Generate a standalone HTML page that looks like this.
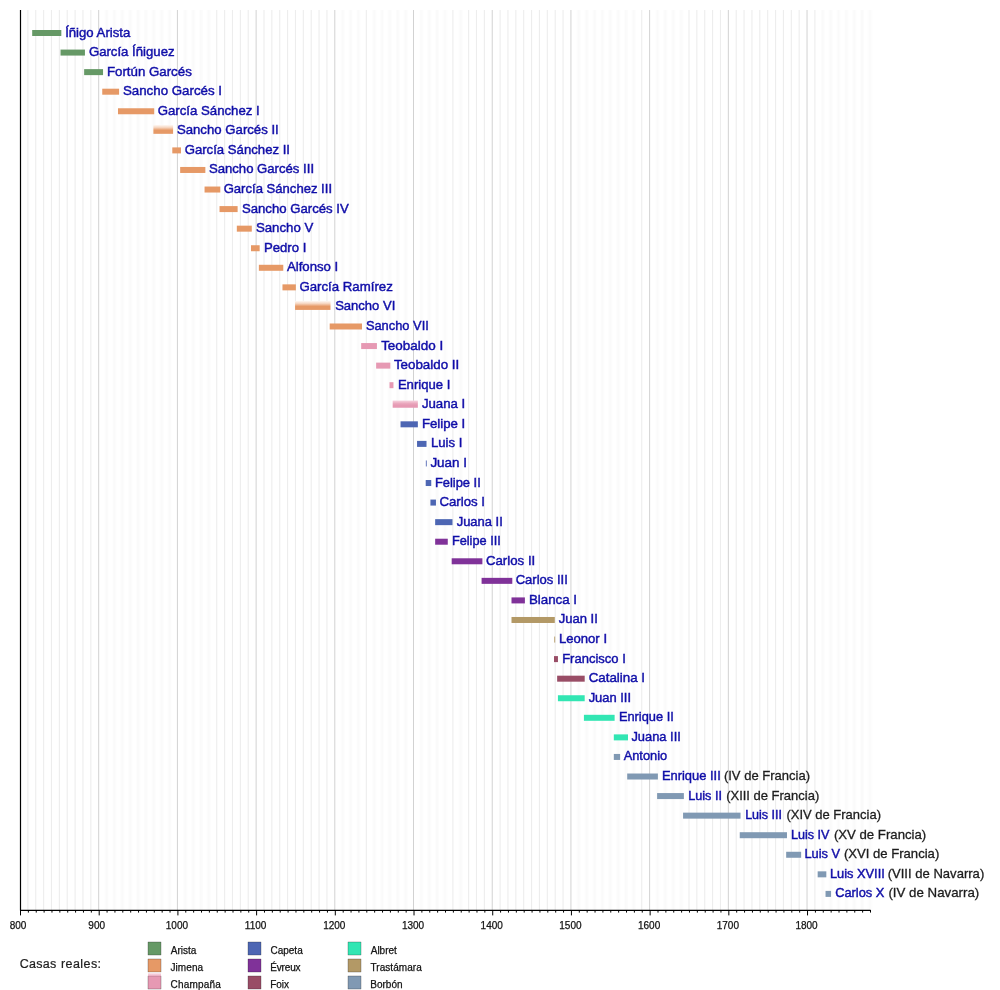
<!DOCTYPE html>
<html lang="es"><head><meta charset="utf-8"><title>Reyes de Navarra</title>
<style>
html,body{margin:0;padding:0;background:#fff;}
body{width:1000px;height:990px;overflow:hidden;font-family:"Liberation Sans",sans-serif;}
svg{display:block;}
text{font-family:"Liberation Sans",sans-serif;}
.lk{fill:#100ca8;stroke:#100ca8;stroke-width:0.45px;font-size:13.6px;}
.pt{fill:#1c1c1c;stroke:#1c1c1c;stroke-width:0.3px;font-size:13.6px;}
.ax{fill:#141414;stroke:#141414;stroke-width:0.25px;font-size:10px;text-anchor:middle;}
.lg{fill:#141414;stroke:#141414;stroke-width:0.25px;font-size:10px;}
.mn{stroke:#f3f3f3;stroke-width:1.2;}
.ms{stroke:#ededed;stroke-width:1.1;}
.mj{stroke:#d2d2d2;stroke-width:1;}
.tk{stroke:#000;stroke-width:1;}
</style></head><body>
<svg width="1000" height="990" viewBox="0 0 1000 990">
<rect x="0" y="0" width="1000" height="990" fill="#ffffff"/>
<defs>
<linearGradient id="gj" x1="0" y1="0" x2="0" y2="1"><stop offset="0" stop-color="#fefaf7"/><stop offset="0.3" stop-color="#f6d5bf"/><stop offset="0.6" stop-color="#e69966"/><stop offset="1" stop-color="#e69966"/></linearGradient>
<linearGradient id="gc" x1="0" y1="0" x2="0" y2="1"><stop offset="0" stop-color="#f6d3df"/><stop offset="0.45" stop-color="#e9a3ba"/><stop offset="0.7" stop-color="#e699b3"/><stop offset="1" stop-color="#e699b3"/></linearGradient>
<filter id="tb" x="0" y="0" width="1000" height="990" filterUnits="userSpaceOnUse"><feGaussianBlur stdDeviation="0.5"/></filter>
<linearGradient id="gl" x1="0" y1="0" x2="0" y2="1"><stop offset="0" stop-color="#fdf3f6"/><stop offset="1" stop-color="#e9a4bc"/></linearGradient>
<filter id="gb2" x="0" y="0" width="1000" height="990" filterUnits="userSpaceOnUse"><feGaussianBlur stdDeviation="0.45 0"/></filter>
<filter id="gb" x="0" y="0" width="1000" height="990" filterUnits="userSpaceOnUse"><feGaussianBlur stdDeviation="0.8 0"/></filter>
</defs>
<g class="mn" filter="url(#gb)">
<line x1="106.57" y1="10" x2="106.57" y2="910"/>
<line x1="114.44" y1="10" x2="114.44" y2="910"/>
<line x1="122.31" y1="10" x2="122.31" y2="910"/>
<line x1="130.19" y1="10" x2="130.19" y2="910"/>
<line x1="138.06" y1="10" x2="138.06" y2="910"/>
<line x1="145.93" y1="10" x2="145.93" y2="910"/>
<line x1="153.8" y1="10" x2="153.8" y2="910"/>
<line x1="161.67" y1="10" x2="161.67" y2="910"/>
<line x1="169.54" y1="10" x2="169.54" y2="910"/>
<line x1="185.28" y1="10" x2="185.28" y2="910"/>
<line x1="193.15" y1="10" x2="193.15" y2="910"/>
<line x1="201.02" y1="10" x2="201.02" y2="910"/>
<line x1="208.89" y1="10" x2="208.89" y2="910"/>
<line x1="342.69" y1="10" x2="342.69" y2="910"/>
<line x1="350.56" y1="10" x2="350.56" y2="910"/>
<line x1="358.43" y1="10" x2="358.43" y2="910"/>
<line x1="374.17" y1="10" x2="374.17" y2="910"/>
<line x1="382.04" y1="10" x2="382.04" y2="910"/>
<line x1="389.91" y1="10" x2="389.91" y2="910"/>
<line x1="397.78" y1="10" x2="397.78" y2="910"/>
<line x1="405.65" y1="10" x2="405.65" y2="910"/>
<line x1="421.39" y1="10" x2="421.39" y2="910"/>
<line x1="429.26" y1="10" x2="429.26" y2="910"/>
<line x1="437.13" y1="10" x2="437.13" y2="910"/>
<line x1="445" y1="10" x2="445" y2="910"/>
<line x1="460.74" y1="10" x2="460.74" y2="910"/>
<line x1="578.8" y1="10" x2="578.8" y2="910"/>
<line x1="586.67" y1="10" x2="586.67" y2="910"/>
<line x1="594.54" y1="10" x2="594.54" y2="910"/>
<line x1="602.41" y1="10" x2="602.41" y2="910"/>
<line x1="610.28" y1="10" x2="610.28" y2="910"/>
<line x1="618.15" y1="10" x2="618.15" y2="910"/>
<line x1="626.02" y1="10" x2="626.02" y2="910"/>
<line x1="633.89" y1="10" x2="633.89" y2="910"/>
<line x1="657.5" y1="10" x2="657.5" y2="910"/>
<line x1="665.37" y1="10" x2="665.37" y2="910"/>
<line x1="673.24" y1="10" x2="673.24" y2="910"/>
<line x1="681.11" y1="10" x2="681.11" y2="910"/>
<line x1="822.78" y1="10" x2="822.78" y2="910"/>
<line x1="830.65" y1="10" x2="830.65" y2="910"/>
<line x1="838.52" y1="10" x2="838.52" y2="910"/>
<line x1="846.39" y1="10" x2="846.39" y2="910"/>
<line x1="854.26" y1="10" x2="854.26" y2="910"/>
<line x1="862.13" y1="10" x2="862.13" y2="910"/>
<line x1="870" y1="10" x2="870" y2="910"/>
</g>
<g class="ms" filter="url(#gb2)">
<line x1="27.87" y1="10" x2="27.87" y2="910"/>
<line x1="35.74" y1="10" x2="35.74" y2="910"/>
<line x1="43.61" y1="10" x2="43.61" y2="910"/>
<line x1="51.48" y1="10" x2="51.48" y2="910"/>
<line x1="59.35" y1="10" x2="59.35" y2="910"/>
<line x1="67.22" y1="10" x2="67.22" y2="910"/>
<line x1="75.09" y1="10" x2="75.09" y2="910"/>
<line x1="82.96" y1="10" x2="82.96" y2="910"/>
<line x1="90.83" y1="10" x2="90.83" y2="910"/>
<line x1="216.76" y1="10" x2="216.76" y2="910"/>
<line x1="224.63" y1="10" x2="224.63" y2="910"/>
<line x1="232.5" y1="10" x2="232.5" y2="910"/>
<line x1="240.37" y1="10" x2="240.37" y2="910"/>
<line x1="248.24" y1="10" x2="248.24" y2="910"/>
<line x1="263.98" y1="10" x2="263.98" y2="910"/>
<line x1="271.85" y1="10" x2="271.85" y2="910"/>
<line x1="279.72" y1="10" x2="279.72" y2="910"/>
<line x1="287.59" y1="10" x2="287.59" y2="910"/>
<line x1="295.46" y1="10" x2="295.46" y2="910"/>
<line x1="303.33" y1="10" x2="303.33" y2="910"/>
<line x1="311.2" y1="10" x2="311.2" y2="910"/>
<line x1="319.07" y1="10" x2="319.07" y2="910"/>
<line x1="326.94" y1="10" x2="326.94" y2="910"/>
<line x1="366.3" y1="10" x2="366.3" y2="910"/>
<line x1="452.87" y1="10" x2="452.87" y2="910"/>
<line x1="468.61" y1="10" x2="468.61" y2="910"/>
<line x1="476.48" y1="10" x2="476.48" y2="910"/>
<line x1="484.35" y1="10" x2="484.35" y2="910"/>
<line x1="500.09" y1="10" x2="500.09" y2="910"/>
<line x1="507.96" y1="10" x2="507.96" y2="910"/>
<line x1="515.83" y1="10" x2="515.83" y2="910"/>
<line x1="523.7" y1="10" x2="523.7" y2="910"/>
<line x1="531.57" y1="10" x2="531.57" y2="910"/>
<line x1="539.44" y1="10" x2="539.44" y2="910"/>
<line x1="547.31" y1="10" x2="547.31" y2="910"/>
<line x1="555.19" y1="10" x2="555.19" y2="910"/>
<line x1="563.06" y1="10" x2="563.06" y2="910"/>
<line x1="641.76" y1="10" x2="641.76" y2="910"/>
<line x1="688.98" y1="10" x2="688.98" y2="910"/>
<line x1="696.85" y1="10" x2="696.85" y2="910"/>
<line x1="704.72" y1="10" x2="704.72" y2="910"/>
<line x1="712.59" y1="10" x2="712.59" y2="910"/>
<line x1="720.46" y1="10" x2="720.46" y2="910"/>
<line x1="736.2" y1="10" x2="736.2" y2="910"/>
<line x1="744.07" y1="10" x2="744.07" y2="910"/>
<line x1="751.94" y1="10" x2="751.94" y2="910"/>
<line x1="759.81" y1="10" x2="759.81" y2="910"/>
<line x1="767.69" y1="10" x2="767.69" y2="910"/>
<line x1="775.56" y1="10" x2="775.56" y2="910"/>
<line x1="783.43" y1="10" x2="783.43" y2="910"/>
<line x1="791.3" y1="10" x2="791.3" y2="910"/>
<line x1="799.17" y1="10" x2="799.17" y2="910"/>
<line x1="814.91" y1="10" x2="814.91" y2="910"/>
</g>
<g class="mj">
<line x1="98.7" y1="10" x2="98.7" y2="910"/>
<line x1="177.41" y1="10" x2="177.41" y2="910"/>
<line x1="256.11" y1="10" x2="256.11" y2="910"/>
<line x1="334.81" y1="10" x2="334.81" y2="910"/>
<line x1="413.52" y1="10" x2="413.52" y2="910"/>
<line x1="492.22" y1="10" x2="492.22" y2="910"/>
<line x1="570.93" y1="10" x2="570.93" y2="910"/>
<line x1="649.63" y1="10" x2="649.63" y2="910"/>
<line x1="728.33" y1="10" x2="728.33" y2="910"/>
<line x1="807.04" y1="10" x2="807.04" y2="910"/>
</g>
<g filter="url(#tb)">
<rect x="32.19" y="30" width="29.13" height="6" fill="#669966"/>
<rect x="60.53" y="49.57" width="24.41" height="6" fill="#669966"/>
<rect x="84.14" y="69.13" width="18.9" height="6" fill="#669966"/>
<rect x="102.24" y="88.7" width="16.86" height="6" fill="#e69966"/>
<rect x="117.98" y="108.26" width="36.22" height="6" fill="#e69966"/>
<rect x="153.4" y="124.83" width="19.69" height="9" fill="url(#gj)"/>
<rect x="172.29" y="147.4" width="8.67" height="6" fill="#e69966"/>
<rect x="180.16" y="166.96" width="25.2" height="6" fill="#e69966"/>
<rect x="204.55" y="186.53" width="15.75" height="6" fill="#e69966"/>
<rect x="219.51" y="206.09" width="18.11" height="6" fill="#e69966"/>
<rect x="236.82" y="225.66" width="14.97" height="6" fill="#e69966"/>
<rect x="250.99" y="245.23" width="8.67" height="6" fill="#e69966"/>
<rect x="258.86" y="264.79" width="24.41" height="6" fill="#e69966"/>
<rect x="282.47" y="284.36" width="13.39" height="6" fill="#e69966"/>
<rect x="295.06" y="300.92" width="35.43" height="9" fill="url(#gj)"/>
<rect x="329.69" y="323.49" width="32.28" height="6" fill="#e69966"/>
<rect x="361.17" y="343.06" width="15.75" height="6" fill="#e699b3"/>
<rect x="376.13" y="362.62" width="14.18" height="6" fill="#e699b3"/>
<rect x="389.51" y="382.19" width="3.95" height="6" fill="#e699b3"/>
<rect x="392.66" y="400.55" width="25.2" height="7.2" fill="url(#gc)"/>
<rect x="400.53" y="421.32" width="17.33" height="6" fill="#4d66b3"/>
<rect x="417.05" y="440.89" width="9.46" height="6" fill="#4d66b3"/>
<rect x="425.81" y="460.45" width="1.1" height="6" fill="#4d66b3" opacity="0.8"/>
<rect x="425.71" y="480.02" width="5.52" height="6" fill="#4d66b3"/>
<rect x="430.43" y="499.58" width="5.52" height="6" fill="#4d66b3"/>
<rect x="435.16" y="519.15" width="17.33" height="6" fill="#4d66b3"/>
<rect x="435.16" y="538.72" width="12.61" height="6" fill="#803399"/>
<rect x="451.68" y="558.28" width="30.71" height="6" fill="#803399"/>
<rect x="481.59" y="577.85" width="30.71" height="6" fill="#803399"/>
<rect x="511.5" y="597.41" width="13.39" height="6" fill="#803399"/>
<rect x="511.5" y="616.98" width="43.3" height="6" fill="#b39966"/>
<rect x="554.1" y="636.55" width="1.1" height="6" fill="#b39966" opacity="0.8"/>
<rect x="554" y="656.11" width="3.95" height="6" fill="#994d66"/>
<rect x="557.15" y="675.68" width="27.56" height="6" fill="#994d66"/>
<rect x="557.93" y="695.24" width="26.77" height="6" fill="#33e6b3"/>
<rect x="583.91" y="714.81" width="30.71" height="6" fill="#33e6b3"/>
<rect x="613.81" y="734.38" width="14.18" height="6" fill="#33e6b3"/>
<rect x="613.81" y="753.94" width="6.31" height="6" fill="#8099b3"/>
<rect x="627.19" y="773.51" width="30.71" height="6" fill="#8099b3"/>
<rect x="657.1" y="793.07" width="26.77" height="6" fill="#8099b3"/>
<rect x="683.07" y="812.64" width="57.47" height="6" fill="#8099b3"/>
<rect x="739.74" y="832.21" width="47.24" height="6" fill="#8099b3"/>
<rect x="786.17" y="851.77" width="14.97" height="6" fill="#8099b3"/>
<rect x="817.66" y="871.34" width="8.67" height="6" fill="#8099b3"/>
<rect x="825.53" y="890.9" width="5.52" height="6" fill="#8099b3"/>
</g>
<line x1="20.5" y1="10" x2="20.5" y2="910.6" stroke="#000" stroke-width="1.2"/>
<line x1="20" y1="910.4" x2="870.6" y2="910.4" stroke="#000" stroke-width="1.15"/>
<g class="tk">
<line x1="20.5" y1="910" x2="20.5" y2="915.4"/>
<line x1="28.37" y1="910" x2="28.37" y2="912.6"/>
<line x1="36.24" y1="910" x2="36.24" y2="912.6"/>
<line x1="44.11" y1="910" x2="44.11" y2="912.6"/>
<line x1="51.98" y1="910" x2="51.98" y2="912.6"/>
<line x1="59.85" y1="910" x2="59.85" y2="912.6"/>
<line x1="67.72" y1="910" x2="67.72" y2="912.6"/>
<line x1="75.59" y1="910" x2="75.59" y2="912.6"/>
<line x1="83.46" y1="910" x2="83.46" y2="912.6"/>
<line x1="91.33" y1="910" x2="91.33" y2="912.6"/>
<line x1="99.2" y1="910" x2="99.2" y2="915.4"/>
<line x1="107.07" y1="910" x2="107.07" y2="912.6"/>
<line x1="114.94" y1="910" x2="114.94" y2="912.6"/>
<line x1="122.81" y1="910" x2="122.81" y2="912.6"/>
<line x1="130.69" y1="910" x2="130.69" y2="912.6"/>
<line x1="138.56" y1="910" x2="138.56" y2="912.6"/>
<line x1="146.43" y1="910" x2="146.43" y2="912.6"/>
<line x1="154.3" y1="910" x2="154.3" y2="912.6"/>
<line x1="162.17" y1="910" x2="162.17" y2="912.6"/>
<line x1="170.04" y1="910" x2="170.04" y2="912.6"/>
<line x1="177.91" y1="910" x2="177.91" y2="915.4"/>
<line x1="185.78" y1="910" x2="185.78" y2="912.6"/>
<line x1="193.65" y1="910" x2="193.65" y2="912.6"/>
<line x1="201.52" y1="910" x2="201.52" y2="912.6"/>
<line x1="209.39" y1="910" x2="209.39" y2="912.6"/>
<line x1="217.26" y1="910" x2="217.26" y2="912.6"/>
<line x1="225.13" y1="910" x2="225.13" y2="912.6"/>
<line x1="233" y1="910" x2="233" y2="912.6"/>
<line x1="240.87" y1="910" x2="240.87" y2="912.6"/>
<line x1="248.74" y1="910" x2="248.74" y2="912.6"/>
<line x1="256.61" y1="910" x2="256.61" y2="915.4"/>
<line x1="264.48" y1="910" x2="264.48" y2="912.6"/>
<line x1="272.35" y1="910" x2="272.35" y2="912.6"/>
<line x1="280.22" y1="910" x2="280.22" y2="912.6"/>
<line x1="288.09" y1="910" x2="288.09" y2="912.6"/>
<line x1="295.96" y1="910" x2="295.96" y2="912.6"/>
<line x1="303.83" y1="910" x2="303.83" y2="912.6"/>
<line x1="311.7" y1="910" x2="311.7" y2="912.6"/>
<line x1="319.57" y1="910" x2="319.57" y2="912.6"/>
<line x1="327.44" y1="910" x2="327.44" y2="912.6"/>
<line x1="335.31" y1="910" x2="335.31" y2="915.4"/>
<line x1="343.19" y1="910" x2="343.19" y2="912.6"/>
<line x1="351.06" y1="910" x2="351.06" y2="912.6"/>
<line x1="358.93" y1="910" x2="358.93" y2="912.6"/>
<line x1="366.8" y1="910" x2="366.8" y2="912.6"/>
<line x1="374.67" y1="910" x2="374.67" y2="912.6"/>
<line x1="382.54" y1="910" x2="382.54" y2="912.6"/>
<line x1="390.41" y1="910" x2="390.41" y2="912.6"/>
<line x1="398.28" y1="910" x2="398.28" y2="912.6"/>
<line x1="406.15" y1="910" x2="406.15" y2="912.6"/>
<line x1="414.02" y1="910" x2="414.02" y2="915.4"/>
<line x1="421.89" y1="910" x2="421.89" y2="912.6"/>
<line x1="429.76" y1="910" x2="429.76" y2="912.6"/>
<line x1="437.63" y1="910" x2="437.63" y2="912.6"/>
<line x1="445.5" y1="910" x2="445.5" y2="912.6"/>
<line x1="453.37" y1="910" x2="453.37" y2="912.6"/>
<line x1="461.24" y1="910" x2="461.24" y2="912.6"/>
<line x1="469.11" y1="910" x2="469.11" y2="912.6"/>
<line x1="476.98" y1="910" x2="476.98" y2="912.6"/>
<line x1="484.85" y1="910" x2="484.85" y2="912.6"/>
<line x1="492.72" y1="910" x2="492.72" y2="915.4"/>
<line x1="500.59" y1="910" x2="500.59" y2="912.6"/>
<line x1="508.46" y1="910" x2="508.46" y2="912.6"/>
<line x1="516.33" y1="910" x2="516.33" y2="912.6"/>
<line x1="524.2" y1="910" x2="524.2" y2="912.6"/>
<line x1="532.07" y1="910" x2="532.07" y2="912.6"/>
<line x1="539.94" y1="910" x2="539.94" y2="912.6"/>
<line x1="547.81" y1="910" x2="547.81" y2="912.6"/>
<line x1="555.69" y1="910" x2="555.69" y2="912.6"/>
<line x1="563.56" y1="910" x2="563.56" y2="912.6"/>
<line x1="571.43" y1="910" x2="571.43" y2="915.4"/>
<line x1="579.3" y1="910" x2="579.3" y2="912.6"/>
<line x1="587.17" y1="910" x2="587.17" y2="912.6"/>
<line x1="595.04" y1="910" x2="595.04" y2="912.6"/>
<line x1="602.91" y1="910" x2="602.91" y2="912.6"/>
<line x1="610.78" y1="910" x2="610.78" y2="912.6"/>
<line x1="618.65" y1="910" x2="618.65" y2="912.6"/>
<line x1="626.52" y1="910" x2="626.52" y2="912.6"/>
<line x1="634.39" y1="910" x2="634.39" y2="912.6"/>
<line x1="642.26" y1="910" x2="642.26" y2="912.6"/>
<line x1="650.13" y1="910" x2="650.13" y2="915.4"/>
<line x1="658" y1="910" x2="658" y2="912.6"/>
<line x1="665.87" y1="910" x2="665.87" y2="912.6"/>
<line x1="673.74" y1="910" x2="673.74" y2="912.6"/>
<line x1="681.61" y1="910" x2="681.61" y2="912.6"/>
<line x1="689.48" y1="910" x2="689.48" y2="912.6"/>
<line x1="697.35" y1="910" x2="697.35" y2="912.6"/>
<line x1="705.22" y1="910" x2="705.22" y2="912.6"/>
<line x1="713.09" y1="910" x2="713.09" y2="912.6"/>
<line x1="720.96" y1="910" x2="720.96" y2="912.6"/>
<line x1="728.83" y1="910" x2="728.83" y2="915.4"/>
<line x1="736.7" y1="910" x2="736.7" y2="912.6"/>
<line x1="744.57" y1="910" x2="744.57" y2="912.6"/>
<line x1="752.44" y1="910" x2="752.44" y2="912.6"/>
<line x1="760.31" y1="910" x2="760.31" y2="912.6"/>
<line x1="768.19" y1="910" x2="768.19" y2="912.6"/>
<line x1="776.06" y1="910" x2="776.06" y2="912.6"/>
<line x1="783.93" y1="910" x2="783.93" y2="912.6"/>
<line x1="791.8" y1="910" x2="791.8" y2="912.6"/>
<line x1="799.67" y1="910" x2="799.67" y2="912.6"/>
<line x1="807.54" y1="910" x2="807.54" y2="915.4"/>
<line x1="815.41" y1="910" x2="815.41" y2="912.6"/>
<line x1="823.28" y1="910" x2="823.28" y2="912.6"/>
<line x1="831.15" y1="910" x2="831.15" y2="912.6"/>
<line x1="839.02" y1="910" x2="839.02" y2="912.6"/>
<line x1="846.89" y1="910" x2="846.89" y2="912.6"/>
<line x1="854.76" y1="910" x2="854.76" y2="912.6"/>
<line x1="862.63" y1="910" x2="862.63" y2="912.6"/>
<line x1="870.5" y1="910" x2="870.5" y2="912.6"/>
</g>
<g class="ax" filter="url(#tb)">
<text x="18" y="928.8">800</text>
<text x="96.7" y="928.8">900</text>
<text x="176.91" y="928.8">1000</text>
<text x="255.61" y="928.8">1100</text>
<text x="334.31" y="928.8">1200</text>
<text x="413.02" y="928.8">1300</text>
<text x="491.72" y="928.8">1400</text>
<text x="570.43" y="928.8">1500</text>
<text x="649.13" y="928.8">1600</text>
<text x="727.83" y="928.8">1700</text>
<text x="806.54" y="928.8">1800</text>
</g>
<g filter="url(#tb)">
<text class="lk" x="65.15" y="36.5" textLength="65.15" lengthAdjust="spacingAndGlyphs">Íñigo Arista</text>
<text class="lk" x="88.9" y="56.07" textLength="85.65" lengthAdjust="spacingAndGlyphs">García Íñiguez</text>
<text class="lk" x="106.9" y="75.63" textLength="84.9" lengthAdjust="spacingAndGlyphs">Fortún Garcés</text>
<text class="lk" x="122.9" y="95.2" textLength="99.15" lengthAdjust="spacingAndGlyphs">Sancho Garcés I</text>
<text class="lk" x="157.65" y="114.76" textLength="102.15" lengthAdjust="spacingAndGlyphs">García Sánchez I</text>
<text class="lk" x="176.9" y="134.33" textLength="101.9" lengthAdjust="spacingAndGlyphs">Sancho Garcés II</text>
<text class="lk" x="184.65" y="153.9" textLength="105.4" lengthAdjust="spacingAndGlyphs">García Sánchez II</text>
<text class="lk" x="208.9" y="173.46" textLength="105.15" lengthAdjust="spacingAndGlyphs">Sancho Garcés III</text>
<text class="lk" x="223.65" y="193.03" textLength="108.4" lengthAdjust="spacingAndGlyphs">García Sánchez III</text>
<text class="lk" x="241.9" y="212.59" textLength="106.9" lengthAdjust="spacingAndGlyphs">Sancho Garcés IV</text>
<text class="lk" x="255.9" y="232.16" textLength="57.4" lengthAdjust="spacingAndGlyphs">Sancho V</text>
<text class="lk" x="263.9" y="251.73" textLength="42.4" lengthAdjust="spacingAndGlyphs">Pedro I</text>
<text class="lk" x="286.9" y="271.29" textLength="51.4" lengthAdjust="spacingAndGlyphs">Alfonso I</text>
<text class="lk" x="299.4" y="290.86" textLength="93.4" lengthAdjust="spacingAndGlyphs">García Ramírez</text>
<text class="lk" x="335.15" y="310.42" textLength="60.15" lengthAdjust="spacingAndGlyphs">Sancho VI</text>
<text class="lk" x="365.9" y="329.99" textLength="62.9" lengthAdjust="spacingAndGlyphs">Sancho VII</text>
<text class="lk" x="381.15" y="349.56" textLength="62.15" lengthAdjust="spacingAndGlyphs">Teobaldo I</text>
<text class="lk" x="393.9" y="369.12" textLength="65.4" lengthAdjust="spacingAndGlyphs">Teobaldo II</text>
<text class="lk" x="397.9" y="388.69" textLength="52.4" lengthAdjust="spacingAndGlyphs">Enrique I</text>
<text class="lk" x="421.9" y="408.25" textLength="43.4" lengthAdjust="spacingAndGlyphs">Juana I</text>
<text class="lk" x="421.9" y="427.82" textLength="43.4" lengthAdjust="spacingAndGlyphs">Felipe I</text>
<text class="lk" x="430.9" y="447.39" textLength="31.4" lengthAdjust="spacingAndGlyphs">Luis I</text>
<text class="lk" x="430.4" y="466.95" textLength="36.65" lengthAdjust="spacingAndGlyphs">Juan I</text>
<text class="lk" x="434.9" y="486.52" textLength="45.9" lengthAdjust="spacingAndGlyphs">Felipe II</text>
<text class="lk" x="439.4" y="506.08" textLength="45.65" lengthAdjust="spacingAndGlyphs">Carlos I</text>
<text class="lk" x="456.65" y="525.65" textLength="46.15" lengthAdjust="spacingAndGlyphs">Juana II</text>
<text class="lk" x="451.9" y="545.22" textLength="48.9" lengthAdjust="spacingAndGlyphs">Felipe III</text>
<text class="lk" x="485.9" y="564.78" textLength="49.4" lengthAdjust="spacingAndGlyphs">Carlos II</text>
<text class="lk" x="515.65" y="584.35" textLength="52.15" lengthAdjust="spacingAndGlyphs">Carlos III</text>
<text class="lk" x="528.9" y="603.91" textLength="48.15" lengthAdjust="spacingAndGlyphs">Blanca I</text>
<text class="lk" x="558.65" y="623.48" textLength="39.15" lengthAdjust="spacingAndGlyphs">Juan II</text>
<text class="lk" x="558.9" y="643.05" textLength="48.15" lengthAdjust="spacingAndGlyphs">Leonor I</text>
<text class="lk" x="562.15" y="662.61" textLength="63.65" lengthAdjust="spacingAndGlyphs">Francisco I</text>
<text class="lk" x="588.65" y="682.18" textLength="56.4" lengthAdjust="spacingAndGlyphs">Catalina I</text>
<text class="lk" x="588.65" y="701.74" textLength="42.4" lengthAdjust="spacingAndGlyphs">Juan III</text>
<text class="lk" x="618.9" y="721.31" textLength="54.9" lengthAdjust="spacingAndGlyphs">Enrique II</text>
<text class="lk" x="631.4" y="740.88" textLength="49.4" lengthAdjust="spacingAndGlyphs">Juana III</text>
<text class="lk" x="623.65" y="760.44" textLength="43.55" lengthAdjust="spacingAndGlyphs">Antonio</text>
<text class="lk" x="661.9" y="780.01" textLength="58.9" lengthAdjust="spacingAndGlyphs">Enrique III</text>
<text class="pt" x="723.9" y="780.01" textLength="86.1" lengthAdjust="spacingAndGlyphs">(IV de Francia)</text>
<text class="lk" x="688.15" y="799.57" textLength="33.9" lengthAdjust="spacingAndGlyphs">Luis II</text>
<text class="pt" x="726.15" y="799.57" textLength="93.1" lengthAdjust="spacingAndGlyphs">(XIII de Francia)</text>
<text class="lk" x="745.15" y="819.14" textLength="36.9" lengthAdjust="spacingAndGlyphs">Luis III</text>
<text class="pt" x="786.4" y="819.14" textLength="94.6" lengthAdjust="spacingAndGlyphs">(XIV de Francia)</text>
<text class="lk" x="790.9" y="838.71" textLength="38.5" lengthAdjust="spacingAndGlyphs">Luis IV</text>
<text class="pt" x="833.9" y="838.71" textLength="92.35" lengthAdjust="spacingAndGlyphs">(XV de Francia)</text>
<text class="lk" x="804.4" y="858.27" textLength="35.65" lengthAdjust="spacingAndGlyphs">Luis V</text>
<text class="pt" x="843.9" y="858.27" textLength="95.35" lengthAdjust="spacingAndGlyphs">(XVI de Francia)</text>
<text class="lk" x="829.9" y="877.84" textLength="54.9" lengthAdjust="spacingAndGlyphs">Luis XVIII</text>
<text class="pt" x="887.65" y="877.84" textLength="96.6" lengthAdjust="spacingAndGlyphs">(VIII de Navarra)</text>
<text class="lk" x="835.2" y="897.4" textLength="49.2" lengthAdjust="spacingAndGlyphs">Carlos X</text>
<text class="pt" x="888.4" y="897.4" textLength="90.85" lengthAdjust="spacingAndGlyphs">(IV de Navarra)</text>
</g>
<g font-size="12.5" fill="#1c1c1c" stroke="#1c1c1c" stroke-width="0.2" filter="url(#tb)">
<text x="19.7" y="968" textLength="36.6" lengthAdjust="spacing">Casas</text>
<text x="61" y="968" textLength="40.1" lengthAdjust="spacing">reales:</text>
</g>
<g class="lg" filter="url(#tb)">
<rect x="148" y="942" width="13" height="13" fill="#669966"/>
<text x="170.7" y="953.8" textLength="25.7" lengthAdjust="spacing">Arista</text>
<rect x="148" y="959" width="13" height="13" fill="#e69966"/>
<text x="170.4" y="970.8" textLength="32.7" lengthAdjust="spacing">Jimena</text>
<rect x="148" y="976" width="13" height="13" fill="#e699b3"/>
<text x="170.5" y="987.8" textLength="50.2" lengthAdjust="spacing">Champaña</text>
<rect x="248" y="942" width="13" height="13" fill="#4d66b3"/>
<text x="270.5" y="953.8" textLength="32.2" lengthAdjust="spacing">Capeta</text>
<rect x="248" y="959" width="13" height="13" fill="#803399"/>
<text x="270.3" y="970.8" textLength="30.2" lengthAdjust="spacing">Évreux</text>
<rect x="248" y="976" width="13" height="13" fill="#994d66"/>
<text x="270.3" y="987.8" textLength="18.7" lengthAdjust="spacing">Foix</text>
<rect x="348" y="942" width="13" height="13" fill="#33e6b3"/>
<text x="370.7" y="953.8" textLength="26.2" lengthAdjust="spacing">Albret</text>
<rect x="348" y="959" width="13" height="13" fill="#b39966"/>
<text x="370.5" y="970.8" textLength="51.2" lengthAdjust="spacing">Trastámara</text>
<rect x="348" y="976" width="13" height="13" fill="#8099b3"/>
<text x="370.3" y="987.8" textLength="32.2" lengthAdjust="spacing">Borbón</text>
</g>
<rect x="148" y="972.6" width="13" height="3.6" fill="url(#gl)"/>
</svg>
</body></html>
